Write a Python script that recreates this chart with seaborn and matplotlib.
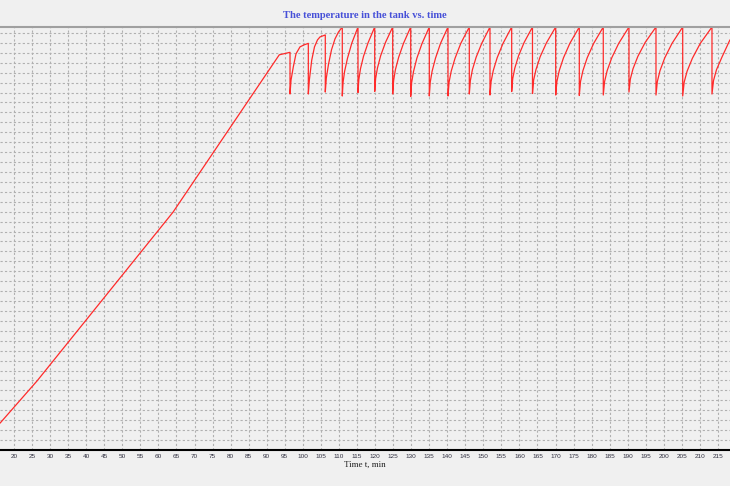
import matplotlib
matplotlib.use("Agg")
import matplotlib.pyplot as plt
import seaborn as sns
import pandas as pd

# heating ramp (time in min, temperature)
ramp_time = [16.12, 26.37, 64.04, 93.48, 96.45]
ramp_temp = [5.4, 13.9, 47.9, 79.6, 80.1]

# thermostat cycles: each list is one saw tooth (drop -> recovery)
cycle_time = [
    [96.45, 96.73, 97.37, 98.11, 99.22, 100.33, 101.52],
    [101.52, 101.80, 102.46, 103.23, 104.06, 104.76, 106.22],
    [106.22, 106.50, 107.11, 107.94, 108.91, 109.88, 110.93],
    [110.93, 111.15, 111.58, 112.37, 113.54, 115.28],
    [115.28, 115.51, 115.97, 116.81, 118.06, 119.91],
    [119.91, 120.16, 120.66, 121.55, 122.90, 124.89],
    [124.89, 125.14, 125.64, 126.54, 127.88, 129.88],
    [129.88, 130.14, 130.65, 131.58, 132.97, 135.03],
    [135.03, 135.29, 135.81, 136.74, 138.14, 140.21],
    [140.21, 140.51, 141.10, 142.16, 143.75, 146.11],
    [146.11, 146.40, 146.97, 148.00, 149.55, 151.84],
    [151.84, 152.14, 152.74, 153.82, 155.45, 157.85],
    [157.85, 158.14, 158.71, 159.75, 161.31, 163.61],
    [163.61, 163.93, 164.57, 165.73, 167.47, 170.04],
    [170.04, 170.37, 171.02, 172.20, 173.96, 176.58],
    [176.58, 176.91, 177.58, 178.77, 180.56, 183.22],
    [183.22, 183.58, 184.29, 185.57, 187.49, 190.34],
    [190.34, 190.71, 191.46, 192.81, 194.83, 197.82],
    [197.82, 198.19, 198.93, 200.26, 202.26, 205.22],
    [205.22, 205.63, 206.44, 207.90, 210.09, 213.33],
    [213.33, 213.75, 214.58, 216.07, 218.30],
]
cycle_temp = [
    [71.7, 74.5, 77.2, 79.8, 81.2, 81.6, 81.9],
    [71.7, 74.5, 78.5, 81.2, 82.6, 83.2, 83.6],
    [72.1, 74.9, 77.7, 80.6, 82.8, 84.2, 85.2],
    [71.3, 74.1, 76.3, 78.9, 81.9, 85.2],
    [72.0, 74.6, 76.8, 79.3, 82.0, 85.2],
    [72.2, 74.8, 76.9, 79.4, 82.1, 85.2],
    [71.7, 74.4, 76.6, 79.1, 81.9, 85.2],
    [71.2, 74.0, 76.2, 78.9, 81.8, 85.2],
    [71.3, 74.1, 76.3, 78.9, 81.9, 85.2],
    [71.3, 74.1, 76.3, 78.9, 81.9, 85.2],
    [71.7, 74.4, 76.6, 79.1, 81.9, 85.2],
    [71.5, 74.2, 76.4, 79.0, 81.9, 85.2],
    [72.2, 74.8, 76.9, 79.4, 82.1, 85.2],
    [71.8, 74.5, 76.6, 79.2, 82.0, 85.2],
    [71.5, 74.2, 76.4, 79.0, 81.9, 85.2],
    [71.4, 74.2, 76.4, 79.0, 81.9, 85.2],
    [71.5, 74.2, 76.4, 79.0, 81.9, 85.2],
    [72.1, 74.7, 76.8, 79.3, 82.1, 85.2],
    [71.5, 74.2, 76.4, 79.0, 81.9, 85.2],
    [71.3, 74.1, 76.3, 78.9, 81.9, 85.2],
    [71.7, 74.4, 76.6, 79.1, 82.6],
]

x_ticks = list(range(20, 216, 5))

times = list(ramp_time)
temps = list(ramp_temp)
for t, v in zip(cycle_time, cycle_temp):
    times += t
    temps += v
df = pd.DataFrame({"time": times, "temp": temps})

sns.set_style("white")
bg = "#f0f0f0"
fig = plt.figure(figsize=(7.3, 4.86), dpi=100, facecolor=bg)
ax = fig.add_axes([0, 36 / 486, 1, 423 / 486])
ax.set_facecolor(bg)

sns.lineplot(data=df, x="time", y="temp", sort=False, estimator=None,
             color="#ff2a2a", linewidth=0.9, ax=ax)

ax.set_xlim(16.12, 218.32)
ax.set_ylim(0, 85.2)
ax.set_xticks(x_ticks)
ax.set_xticklabels([str(v) for v in x_ticks], fontsize=4.6,
                   family="Liberation Sans", color="#303040")
ax.set_yticks(range(2, 85, 2))
ax.set_yticklabels([])
ax.tick_params(axis="both", length=0, pad=3)
ax.grid(True, color="#b0b0b0", linestyle=(0, (2, 2)), linewidth=0.8)

for side in ("left", "right"):
    ax.spines[side].set_visible(False)
ax.spines["bottom"].set_color("black")
ax.spines["bottom"].set_linewidth(1.5)
ax.spines["top"].set_color("#a0a0a0")
ax.spines["top"].set_linewidth(1.5)

ax.set_xlabel("Time t, min", fontsize=6.5, family="Liberation Serif",
              color="#202020", labelpad=1)
ax.set_ylabel("")
fig.text(0.5, 1 - 15 / 486, "The temperature in the tank vs. time",
         ha="center", va="center", fontsize=7.6, fontweight="bold",
         family="Liberation Serif", color="#4650d8")

fig.savefig("out.png", dpi=100, facecolor=bg)
